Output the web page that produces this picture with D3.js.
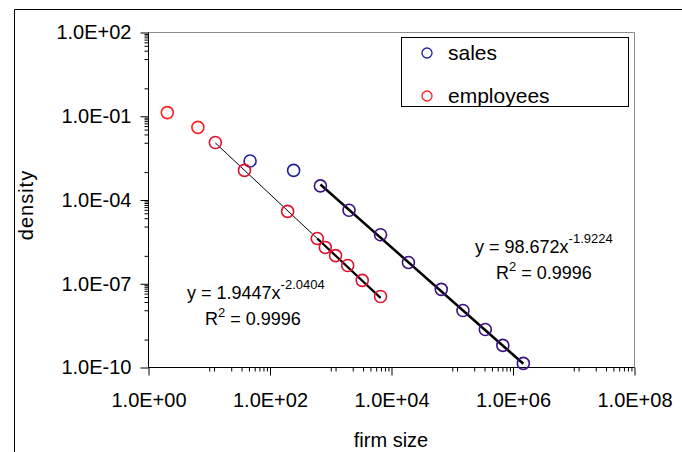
<!DOCTYPE html>
<html>
<head>
<meta charset="utf-8">
<script src="https://cdn.jsdelivr.net/npm/d3@7"></script>
<style>
  html, body { margin: 0; padding: 0; background: #fff; }
  svg { display: block; font-family: "Liberation Sans", Arial, sans-serif; }
</style>
</head>
<body>
<svg id="chart" width="682" height="452"></svg>
<script>
// ---- data ----
const salesX = [47, 245, 676, 2000, 6600, 19000, 66000, 150000, 350000, 680000, 1480000];
const salesY = [2.5e-3, 1.15e-3, 3.2e-4, 4.3e-5, 5.7e-6, 5.8e-7, 6.3e-8, 1.1e-8, 2.3e-9, 6.2e-10, 1.4e-10];
const salesFitFrom = 2; // index of first point used in the fit
const empX = [2.04, 6.5, 12.6, 38, 195, 600, 813, 1200, 1900, 3300, 6600];
const empY = [0.135, 0.040, 0.0115, 1.15e-3, 3.9e-5, 4.2e-6, 2.0e-6, 1.02e-6, 4.5e-7, 1.32e-7, 3.5e-8];
const empFitFrom = 2;
const empThickFrom = 5;
const salesFit = [98.672, -1.9224];   // y = a x^b
const empFit = [1.9447, -2.0404];
const xMajor = [1, 1e2, 1e4, 1e6, 1e8];
const xMajorLabels = ["1.0E+00", "1.0E+02", "1.0E+04", "1.0E+06", "1.0E+08"];
const yMajor = [1e2, 1e-1, 1e-4, 1e-7, 1e-10];
const yMajorLabels = ["1.0E+02", "1.0E-01", "1.0E-04", "1.0E-07", "1.0E-10"];
const seriesNames = ["sales", "employees"];

// ---- layout ----
const svg = d3.select("#chart");
const L = 148.5, R = 634.5, T = 32.5, B = 367.5;
const x = d3.scaleLog().domain([1, 1e8]).range([L, R]);
const y = d3.scaleLog().domain([1e-10, 1e2]).range([B, T]);

// outer frame
svg.append("path").attr("d", `M14.5,452 V9.5 H682`).attr("fill", "none").attr("stroke", "#000").attr("stroke-width", 1);

// plot area border (top & right, gray)
svg.append("path").attr("d", `M${L},${T} H${R} V${B}`).attr("fill", "none").attr("stroke", "#8c8c8c").attr("stroke-width", 1);

// minor ticks
function minorTicks(majors) {
  const out = [];
  for (let i = 0; i < majors.length - 1; i++) {
    const a = Math.min(majors[i], majors[i + 1]);
    const b = Math.max(majors[i], majors[i + 1]);
    const step = (b - a) / 9;
    for (let k = 1; k < 9; k++) out.push(a + k * step);
    out.push(a * 10);
  }
  return out;
}
const xMinor = minorTicks(xMajor);
const yMinor = minorTicks(yMajor);

const axStyle = g => {
  g.select(".domain").remove();
  g.selectAll("line").attr("stroke", "#000");
  g.selectAll("text").attr("font-size", 20).attr("fill", "#000").attr("font-family", "Liberation Sans, Arial, sans-serif");
};

svg.append("g").attr("transform", `translate(0,${B})`)
  .call(d3.axisBottom(x).tickValues(xMinor).tickSize(4).tickFormat(""))
  .call(axStyle);
svg.append("g").attr("transform", `translate(${L},0)`)
  .call(d3.axisLeft(y).tickValues(yMinor).tickSize(4).tickFormat(""))
  .call(axStyle);
svg.append("g").attr("transform", `translate(0,${B})`)
  .call(d3.axisBottom(x).tickValues(xMajor).tickSize(8).tickPadding(17).tickFormat((d, i) => xMajorLabels[i]))
  .call(axStyle);
svg.append("g").attr("transform", `translate(${L},0)`)
  .call(d3.axisLeft(y).tickValues(yMajor).tickSize(8).tickPadding(9).tickFormat((d, i) => yMajorLabels[i]))
  .call(axStyle);

// axis lines
svg.append("path").attr("d", `M${L},${T} V${B} H${R}`).attr("fill", "none").attr("stroke", "#000").attr("stroke-width", 1);

// axis titles
svg.append("text").attr("x", 391).attr("y", 447).attr("text-anchor", "middle").attr("font-size", 20).text("firm size");
svg.append("text").attr("transform", "translate(33,205) rotate(-90)").attr("text-anchor", "middle")
  .attr("font-size", 20).attr("letter-spacing", 1).text("density");

// fit lines
const fitLine = d3.line().x(d => x(d[0])).y(d => y(d[1]));
function fitPts(c, x0, x1) { return [[x0, c[0] * Math.pow(x0, c[1])], [x1, c[0] * Math.pow(x1, c[1])]]; }
svg.append("path").attr("d", fitLine(fitPts(empFit, empX[empFitFrom], empX[empX.length - 1])))
  .attr("stroke", "#000").attr("stroke-width", 1).attr("fill", "none");
svg.append("path").attr("d", fitLine(fitPts(empFit, empX[empThickFrom], empX[empX.length - 1])))
  .attr("stroke", "#000").attr("stroke-width", 2.2).attr("fill", "none");
svg.append("path").attr("d", fitLine(fitPts(salesFit, salesX[salesFitFrom], salesX[salesX.length - 1])))
  .attr("stroke", "#000").attr("stroke-width", 2.5).attr("fill", "none");

// points
const salesCol = "#1f1fa0", salesFitCol = "#3c1082";
const empCol = "#ff1f1f", empFitCol = "#e0102e";
svg.append("g").selectAll("circle").data(salesX.map((v, i) => [v, salesY[i], i]))
  .join("circle").attr("cx", d => x(d[0])).attr("cy", d => y(d[1])).attr("r", 6)
  .attr("fill", "none").attr("stroke", d => d[2] >= salesFitFrom ? salesFitCol : salesCol).attr("stroke-width", 1.6);
svg.append("g").selectAll("circle").data(empX.map((v, i) => [v, empY[i], i]))
  .join("circle").attr("cx", d => x(d[0])).attr("cy", d => y(d[1])).attr("r", 6)
  .attr("fill", "none").attr("stroke", d => d[2] >= empFitFrom ? empFitCol : empCol).attr("stroke-width", 1.6);

// equations
function eq(xp, yp, a, b, rx) {
  const t = svg.append("text").attr("x", xp).attr("y", yp).attr("font-size", 18);
  t.append("tspan").text(`y = ${a}x`);
  t.append("tspan").attr("dy", -10).attr("font-size", 13).text(b);
  const r = svg.append("text").attr("x", rx).attr("y", yp + 26).attr("font-size", 18);
  r.append("tspan").text("R");
  r.append("tspan").attr("dy", -8).attr("font-size", 13).text("2");
  r.append("tspan").attr("dy", 8).text(" = 0.9996");
}
eq(187, 299, "1.9447", "-2.0404", 205);
eq(475, 253, "98.672", "-1.9224", 496);

// legend
svg.append("rect").attr("x", 401.5).attr("y", 37.5).attr("width", 227).attr("height", 69)
  .attr("fill", "#fff").attr("stroke", "#000").attr("stroke-width", 1);
const legCols = [salesCol, empCol];
seriesNames.forEach((n, i) => {
  const cy = 53 + i * 43;
  svg.append("circle").attr("cx", 427).attr("cy", cy).attr("r", 5).attr("fill", "none")
    .attr("stroke", legCols[i]).attr("stroke-width", 1.3);
  svg.append("text").attr("x", 448).attr("y", cy + 7).attr("font-size", 21).text(n);
});
</script>
</body>
</html>
